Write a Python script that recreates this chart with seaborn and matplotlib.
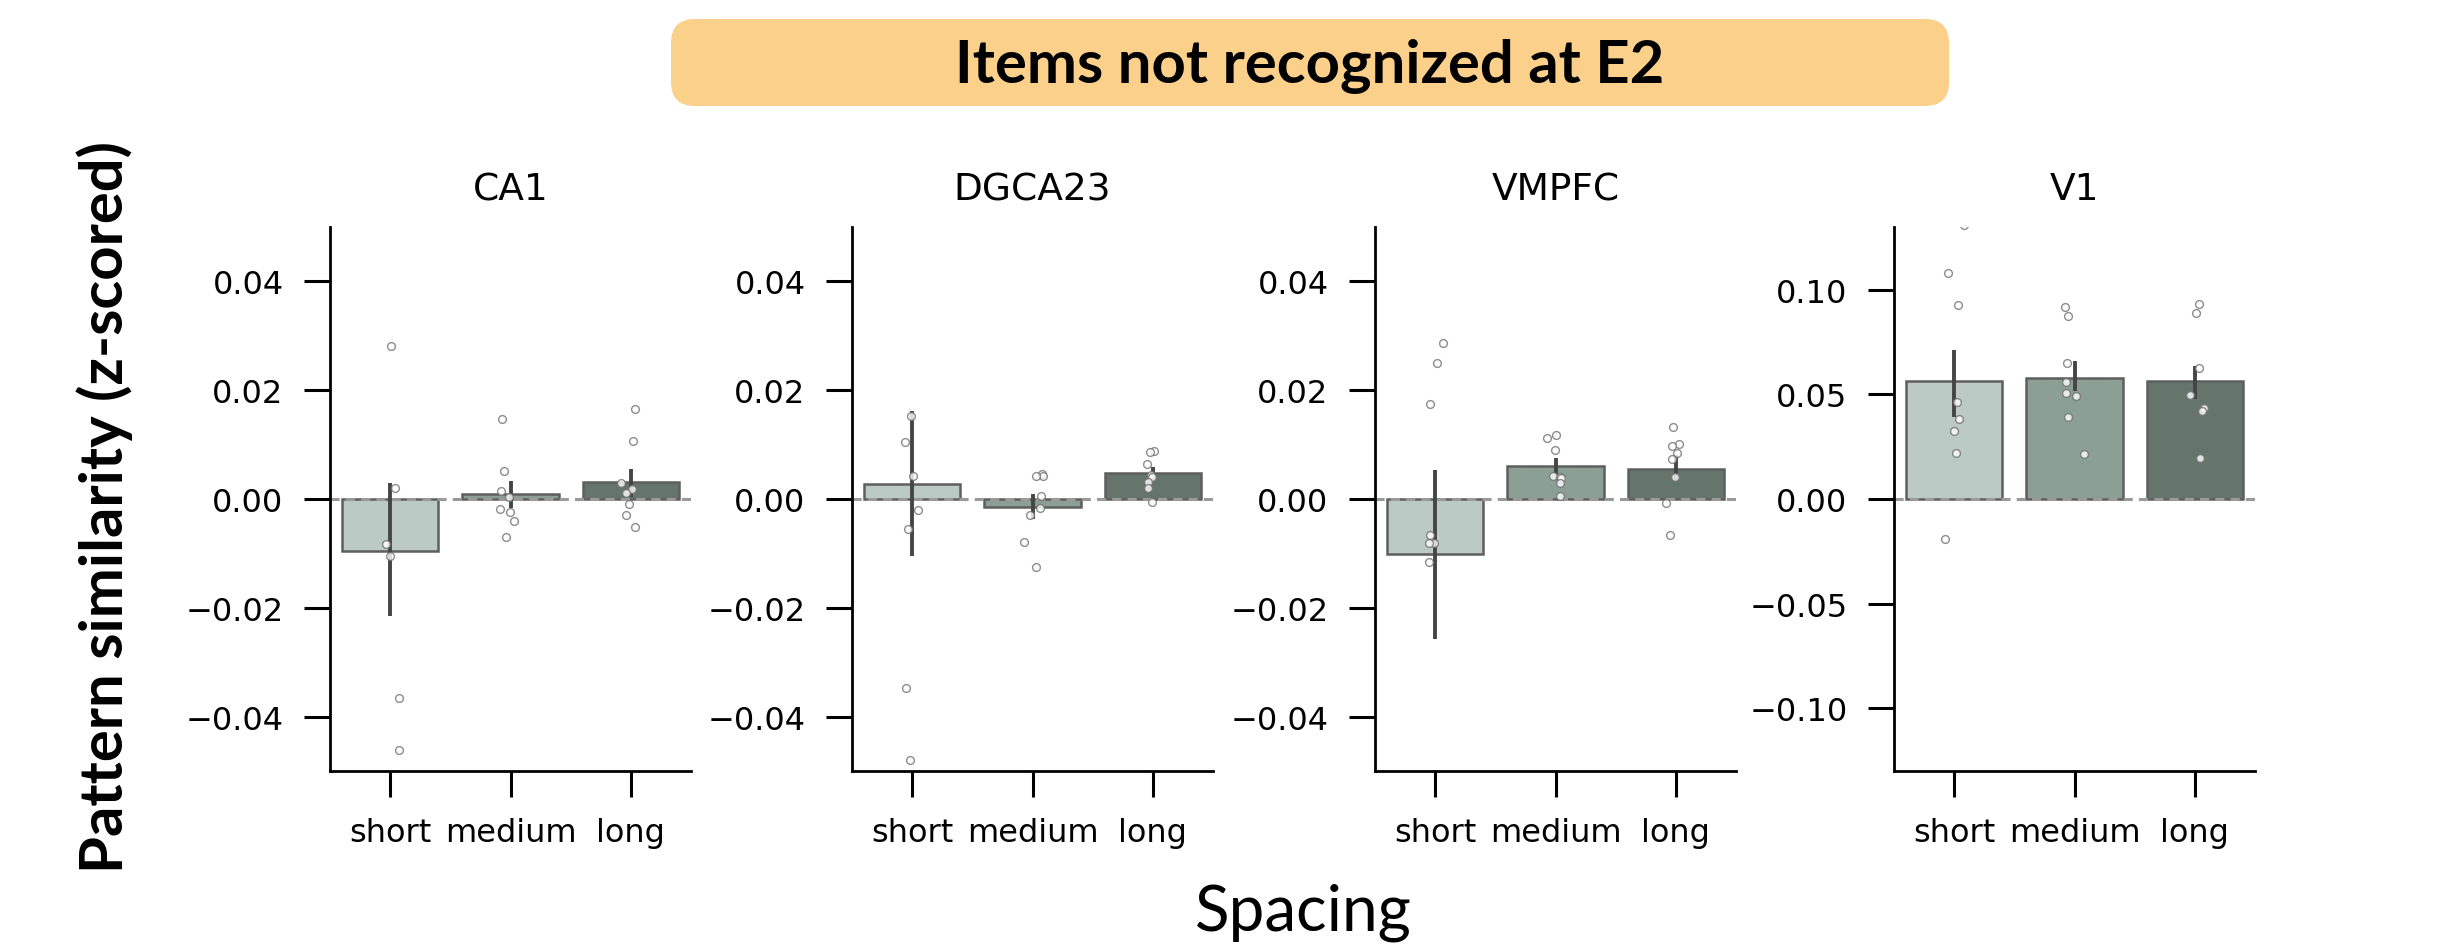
import numpy as np
import pandas as pd
import matplotlib
matplotlib.use("Agg")
import matplotlib.pyplot as plt
import seaborn as sns
from matplotlib.patches import FancyBboxPatch
from matplotlib.transforms import IdentityTransform

# ---------------- data ----------------
categories = ["short", "medium", "long"]
regions = ["CA1", "DGCA23", "VMPFC", "V1"]

bar_means = {
    "CA1":    [-0.0095, 0.0009, 0.0031],
    "DGCA23": [0.0027, -0.0015, 0.0047],
    "VMPFC":  [-0.0102, 0.0060, 0.0056],
    "V1":     [0.0565, 0.0577, 0.0563],
}
ci_low = {
    "CA1":    [-0.0215, -0.0016, 0.0003],
    "DGCA23": [-0.0105, -0.0036, 0.0037],
    "VMPFC":  [-0.0257, 0.0046, 0.0034],
    "V1":     [0.0394, 0.0517, 0.0478],
}
ci_high = {
    "CA1":    [0.0030, 0.0034, 0.0056],
    "DGCA23": [0.0162, 0.0009, 0.0058],
    "VMPFC":  [0.0054, 0.0075, 0.0081],
    "V1":     [0.0710, 0.0659, 0.0637],
}

ca1_short = [0.0281, 0.0021, -0.0083, -0.0105, -0.0366, -0.0462]
ca1_medium = [0.0147, 0.0051, 0.0015, 0.0004, -0.0019, -0.0024, -0.0040, -0.0070]
ca1_long = [0.0166, 0.0106, 0.0030, 0.0018, 0.0011, -0.0010, -0.0030, -0.0052]

dg_short = [0.0153, 0.0105, 0.0042, -0.0021, -0.0055, -0.0348, -0.0480]
dg_medium = [0.0046, 0.0043, 0.0042, 0.0006, -0.0016, -0.0029, -0.0079, -0.0125]
dg_long = [0.0088, 0.0086, 0.0065, 0.0045, 0.0040, 0.0031, 0.0021, -0.0005]

vm_short = [0.0286, 0.0250, 0.0174, -0.0066, -0.0080, -0.0080, -0.0115]
vm_medium = [0.0118, 0.0113, 0.0090, 0.0043, 0.0040, 0.0039, 0.0030, 0.0005]
vm_long = [0.0132, 0.0102, 0.0097, 0.0085, 0.0073, 0.0040, -0.0007, -0.0067]

v1_short = [0.131, 0.108, 0.0928, 0.0462, 0.0381, 0.0324, 0.0222, -0.0191]
v1_medium = [0.0916, 0.0874, 0.0650, 0.0558, 0.0507, 0.0491, 0.0394, 0.0213]
v1_long = [0.0933, 0.0887, 0.0628, 0.0495, 0.0433, 0.0421, 0.0196]

points = {
    "CA1": [ca1_short, ca1_medium, ca1_long],
    "DGCA23": [dg_short, dg_medium, dg_long],
    "VMPFC": [vm_short, vm_medium, vm_long],
    "V1": [v1_short, v1_medium, v1_long],
}

ylims = {"CA1": 0.05, "DGCA23": 0.05, "VMPFC": 0.05, "V1": 0.13}
yticks_small = [-0.04, -0.02, 0.00, 0.02, 0.04]
yticks_v1 = [-0.10, -0.05, 0.00, 0.05, 0.10]

title_text = "Items not recognized at E2"
ylabel_text = "Pattern similarity (z-scored)"
xlabel_text = "Spacing"

# ---------------- style ----------------
sns.set_theme(style="ticks")
plt.rcParams["font.family"] = ["DejaVu Sans"]
plt.rcParams["text.color"] = "black"
plt.rcParams["xtick.labelcolor"] = "black"
plt.rcParams["ytick.labelcolor"] = "black"
plt.rcParams["axes.titlecolor"] = "black"
palette = ["#b8cdc4", "#88a294", "#63786a"]

W, H, DPI = 2464, 945, 200
fig = plt.figure(figsize=(W / DPI, H / DPI), dpi=DPI)

lefts = [330, 852, 1375, 1894]
ax_w = 361
ax_bottom = 772
ax_top = 228

np.random.seed(3)
for i, reg in enumerate(regions):
    ax = fig.add_axes([lefts[i] / W, (H - ax_bottom) / H, ax_w / W, (ax_bottom - ax_top) / H])
    bdf = pd.DataFrame({"spacing": categories, "value": bar_means[reg]})
    sns.barplot(data=bdf, x="spacing", y="value", hue="spacing", palette=palette,
                order=categories, hue_order=categories, errorbar=None, legend=False,
                edgecolor="#5e5e5e", linewidth=0.9, width=0.8, ax=ax, zorder=1)
    pos = np.arange(len(categories))
    ax.vlines(pos, ci_low[reg], ci_high[reg], color="#454545", linewidth=1.4, zorder=3)
    ax.axhline(0, color="#9a9a9a", linestyle=(0, (3, 2.0)), linewidth=1.1, zorder=2)
    rows = []
    for c, vals in zip(categories, points[reg]):
        for v in vals:
            rows.append((c, v))
    pdf = pd.DataFrame(rows, columns=["spacing", "value"])
    sns.stripplot(data=pdf, x="spacing", y="value", order=categories, color="white",
                  edgecolor="#707070", linewidth=0.5, size=2.8, alpha=0.8,
                  jitter=0.09, ax=ax, zorder=4)
    lim = ylims[reg]
    ax.set_ylim(-lim, lim)
    ax.set_xlim(-0.5, 2.5)
    ax.set_yticks(yticks_v1 if reg == "V1" else yticks_small)
    ax.set_xlabel("")
    ax.set_ylabel("")
    ax.set_title(reg, fontsize=13.5, pad=10, color="black")
    ax.tick_params(axis="both", labelsize=11.5, length=9.2, width=1.1, color="black",
                   labelcolor="black", pad=7.5)
    for s in ["left", "bottom"]:
        ax.spines[s].set_linewidth(1.0)
        ax.spines[s].set_color("black")
    sns.despine(ax=ax)

# banner
banner = FancyBboxPatch((671, H - 107), 1278, 87,
                        boxstyle="round,pad=0,rounding_size=24",
                        transform=IdentityTransform(), facecolor="#fad08a",
                        edgecolor="none", zorder=0)
fig.patches.append(banner)
fig.text(1310 / W, (H - 66) / H, title_text, ha="center", va="center", color="black",
         fontsize=21.5, fontweight="bold", family=["Lato", "DejaVu Sans"])

fig.text(105 / W, 0.463, ylabel_text, rotation=90, ha="center", va="center", color="black",
         fontsize=21.5, fontweight="bold", family=["Lato", "DejaVu Sans"])
fig.text(1303 / W, 32 / H, xlabel_text, ha="center", va="center", color="black",
         fontsize=23, family=["Lato", "DejaVu Sans"])

fig.savefig("out.png", dpi=DPI)
